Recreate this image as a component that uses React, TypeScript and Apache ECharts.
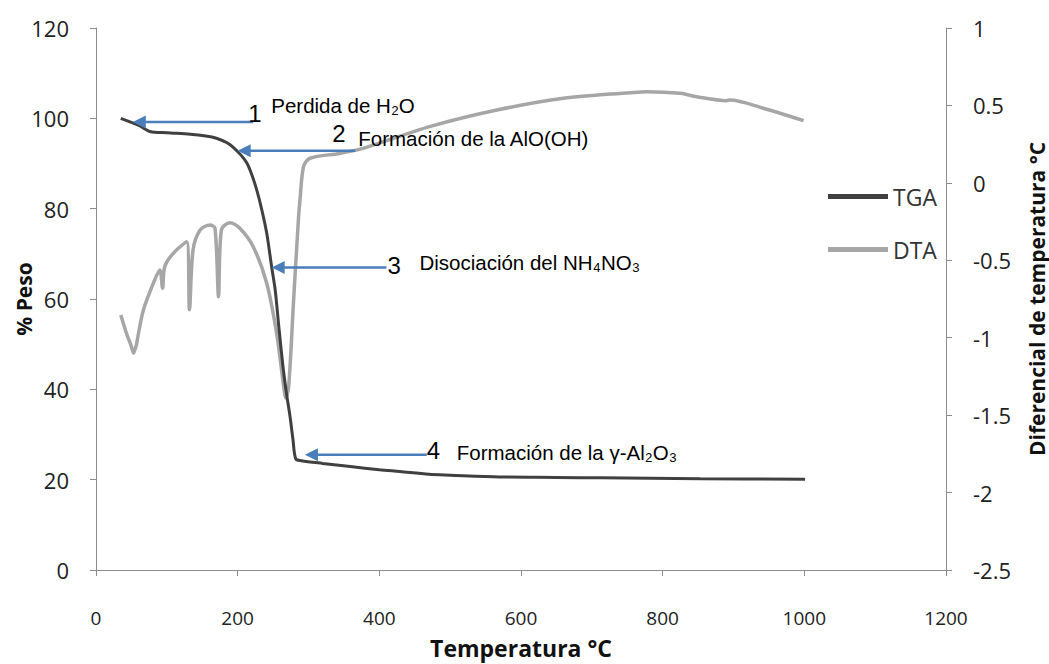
import { useEffect, useRef } from 'react';
import * as echarts from 'echarts';

const xTickValues = [0, 200, 400, 600, 800, 1000, 1200];
const seriesNames = ['TGA', 'DTA'];

const tgaTemp = [35, 48, 62, 76, 100, 133, 155, 170, 185, 193, 205, 213, 220, 227, 234, 241, 248, 253, 258, 264, 269, 274, 278, 282, 290, 320, 359, 400, 429, 470, 500, 570, 650, 712, 853, 1001];
const tgaWeight = [100, 99.2, 98.3, 97.1, 96.8, 96.5, 96.1, 95.6, 94.6, 93.7, 91.8, 90.1, 87.5, 84.1, 79.8, 74.6, 67.1, 62, 54, 45, 39, 33.9, 29, 24.6, 24.2, 23.6, 22.9, 22.2, 21.8, 21.2, 21, 20.6, 20.5, 20.4, 20.2, 20.1];

const dtaTemp = [35, 43, 50, 53, 57, 60, 67, 81, 90, 94, 97, 109, 128, 132, 137, 147, 161, 168, 173, 177, 189, 203, 222, 241, 255, 265, 268, 272, 279, 286, 288, 293, 302, 344, 377, 471, 566, 660, 754, 777, 825, 848, 890, 895, 942, 999];
const dtaDelta = [-0.853, -0.971, -1.057, -1.1, -1.046, -0.971, -0.82, -0.648, -0.562, -0.68, -0.541, -0.455, -0.38, -0.82, -0.433, -0.304, -0.272, -0.293, -0.735, -0.304, -0.257, -0.293, -0.412, -0.648, -0.971, -1.316, -1.39, -1.316, -0.756, -0.218, -0.11, 0.105, 0.159, 0.19, 0.223, 0.363, 0.47, 0.546, 0.582, 0.589, 0.578, 0.556, 0.531, 0.535, 0.482, 0.402];

const annNumbers = ['1', '2', '3', '4'];
const annLabels = ['Perdida de H₂O', 'Formación de la AlO(OH)', 'Disociación del NH₄NO₃', 'Formación de la γ-Al₂O₃'];
const annTipTemp = [52, 200, 248, 295];
const annTipWeight = [99.2, 92.8, 67, 25.5];
const annTailTemp = [222, 366, 410, 467];

// layout offsets (pixels, relative to arrow tail)
const numOffsets = [[-5, -8], [-23, -17], [1, -2], [0, -4]];
const labelOffsets = [[18, -16], [3, -12], [33, -5], [30, -2]];

export default function App() {
  const ref = useRef<HTMLDivElement>(null);
  useEffect(() => {
    const chart = echarts.init(ref.current!, null, { renderer: 'svg' });
    const axisFont = 'Open Sans, sans-serif';
    const option: any = {
      animation: false,
      backgroundColor: '#ffffff',
      grid: { left: 96, right: 103, top: 28, bottom: 94, containLabel: false, outerBoundsMode: 'none' },
      legend: {
        orient: 'vertical',
        left: 823,
        top: 180,
        itemWidth: 60,
        itemHeight: 5,
        itemGap: 30,
        icon: 'rect',
        data: seriesNames,
        textStyle: { fontFamily: axisFont, fontSize: 23, color: '#333333', padding: [0, 0, 0, 0] },
      },
      xAxis: {
        type: 'value',
        min: 0,
        max: 1200,
        interval: 200,
        name: 'Temperatura °C',
        nameLocation: 'middle',
        nameGap: 66,
        nameMoveOverlap: false,
        nameTextStyle: { fontFamily: axisFont, fontWeight: 'bold', fontSize: 23, color: '#111111' },
        axisLine: { lineStyle: { color: '#8c8c8c', width: 1 } },
        axisTick: { show: true, length: 6, lineStyle: { color: '#8c8c8c' } },
        axisLabel: {
          margin: 38,
          fontFamily: axisFont,
          fontSize: 19,
          color: '#222222',
          formatter: (v: number) => (xTickValues.indexOf(v) >= 0 ? String(v) : String(v)),
        },
        splitLine: { show: false },
      },
      yAxis: [
        {
          type: 'value',
          min: 0,
          max: 120,
          interval: 20,
          name: '% Peso',
          nameLocation: 'middle',
          nameGap: 62,
          nameMoveOverlap: false,
          nameTextStyle: { fontFamily: axisFont, fontWeight: 'bold', fontSize: 21, color: '#111111' },
          axisLine: { show: true, lineStyle: { color: '#8c8c8c', width: 1 } },
          axisTick: { show: true, length: 6, lineStyle: { color: '#8c8c8c' } },
          axisLabel: { margin: 27, fontFamily: axisFont, fontSize: 22, color: '#222222' },
          splitLine: { show: false },
        },
        {
          type: 'value',
          min: -2.5,
          max: 1,
          interval: 0.5,
          position: 'right',
          name: 'Diferencial de temperatura °C',
          nameLocation: 'middle',
          nameGap: 80,
          nameMoveOverlap: false,
          nameTextStyle: { fontFamily: axisFont, fontWeight: 'bold', fontSize: 21, color: '#111111' },
          axisLine: { show: true, lineStyle: { color: '#8c8c8c', width: 1 } },
          axisTick: { show: true, length: 6, lineStyle: { color: '#8c8c8c' } },
          axisLabel: { margin: 27, fontFamily: axisFont, fontSize: 22, color: '#222222' },
          splitLine: { show: false },
        },
      ],
      series: [
        {
          name: seriesNames[0],
          type: 'line',
          yAxisIndex: 0,
          data: tgaTemp.map((t, i) => [t, tgaWeight[i]]),
          showSymbol: false,
          smooth: 0.3,
          lineStyle: { color: '#404040', width: 3 },
          itemStyle: { color: '#404040' },
          z: 3,
        },
        {
          name: seriesNames[1],
          type: 'line',
          yAxisIndex: 1,
          data: dtaTemp.map((t, i) => [t, dtaDelta[i]]),
          showSymbol: false,
          smooth: 0.3,
          lineStyle: { color: '#a6a6a6', width: 3.5 },
          itemStyle: { color: '#a6a6a6' },
          z: 2,
        },
      ],
    };
    chart.setOption(option);

    const blue = '#4a7ebb';
    const graphics: any[] = [];
    annNumbers.forEach((num, i) => {
      const tip = chart.convertToPixel({ seriesIndex: 0 }, [annTipTemp[i], annTipWeight[i]]) as number[];
      const tail = chart.convertToPixel({ seriesIndex: 0 }, [annTailTemp[i], annTipWeight[i]]) as number[];
      const headLen = 13;
      const headHalf = 6.5;
      graphics.push({
        type: 'line',
        shape: { x1: tail[0], y1: tip[1], x2: tip[0] + headLen - 1, y2: tip[1] },
        style: { stroke: blue, lineWidth: 2.5 },
        z: 10,
      });
      graphics.push({
        type: 'polygon',
        shape: { points: [[tip[0], tip[1]], [tip[0] + headLen, tip[1] - headHalf], [tip[0] + headLen, tip[1] + headHalf]] },
        style: { fill: blue },
        z: 10,
      });
      graphics.push({
        type: 'text',
        x: tail[0] + numOffsets[i][0],
        y: tip[1] + numOffsets[i][1],
        style: { text: num, fontFamily: 'Liberation Sans, Arial, sans-serif', fontSize: 24, fill: '#000000', align: 'left', verticalAlign: 'middle' },
        z: 11,
      });
      graphics.push({
        type: 'text',
        x: tail[0] + labelOffsets[i][0],
        y: tip[1] + labelOffsets[i][1],
        style: { text: annLabels[i], fontFamily: 'Liberation Sans, Arial, sans-serif', fontSize: 20.5, fill: '#000000', align: 'left', verticalAlign: 'middle' },
        z: 11,
      });
    });
    chart.setOption({ graphic: graphics });

    return () => chart.dispose();
  }, []);
  return <div ref={ref} style={{ position: 'fixed', left: 0, top: 0, width: 1049, height: 664 }} />;
}
